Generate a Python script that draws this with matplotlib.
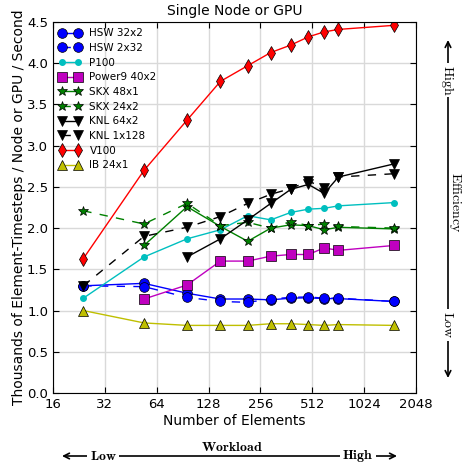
import numpy as np
import matplotlib
matplotlib.use('Agg')
import matplotlib.pyplot as plt
from matplotlib.ticker import NullLocator

plt.rcParams['mathtext.fontset'] = 'cm'
plt.rcParams['font.family'] = 'DejaVu Sans'
plt.rcParams['lines.linewidth'] = 1.0

# number of elements (cubed sphere, 6*ne^2)
N = [24, 54, 96, 150, 216, 294, 384, 486, 600, 726, 1536]
N_54 = N[1:]
N_96 = N[2:]

hsw_32x2 = [1.30, 1.33, 1.21, 1.14, 1.14, 1.13, 1.15, 1.155, 1.145, 1.145, 1.11]
hsw_2x32 = [1.30, 1.29, 1.16, 1.11, 1.10, 1.14, 1.16, 1.165, 1.15, 1.15, 1.11]
p100 = [1.15, 1.65, 1.87, 1.98, 2.15, 2.10, 2.19, 2.23, 2.24, 2.27, 2.31]
power9_40x2 = [1.14, 1.31, 1.60, 1.60, 1.66, 1.68, 1.68, 1.76, 1.73, 1.79]
skx_48x1 = [1.79, 2.26, 2.02, 1.84, 2.00, 2.04, 2.03, 1.98, 2.01, 1.99]
skx_24x2 = [2.21, 2.05, 2.30, 2.03, 2.07, 2.00, 2.08, 2.03, 2.05, 2.02, 2.00]
knl_64x2 = [1.65, 1.87, 2.10, 2.30, 2.47, 2.53, 2.42, 2.62, 2.78]
knl_1x128 = [1.30, 1.90, 2.01, 2.14, 2.30, 2.41, 2.48, 2.57, 2.49, 2.62, 2.66]
v100 = [1.63, 2.70, 3.31, 3.78, 3.97, 4.13, 4.22, 4.32, 4.38, 4.41, 4.46]
ib_24x1 = [1.00, 0.85, 0.82, 0.82, 0.82, 0.84, 0.84, 0.83, 0.82, 0.83, 0.82]

xticks = [16, 32, 64, 128, 256, 512, 1024, 2048]
yticks = [0.0, 0.5, 1.0, 1.5, 2.0, 2.5, 3.0, 3.5, 4.0, 4.5]

fig = plt.figure(figsize=(4.64, 4.63), dpi=100)
ax = fig.add_axes([53/464., 1-393/463., 363/464., 371/463.])

blue = (0, 0, 1)
cyan = (0, 0.75, 0.75)
mag = (0.75, 0, 0.75)
green = (0, 0.5, 0)
yel = (0.75, 0.75, 0)
dash = (6, 6)

ax.plot(N, hsw_32x2, '-', color=blue, marker='o', ms=7, mec='k', mew=0.5, label='HSW 32x2')
ax.plot(N, hsw_2x32, '--', dashes=dash, color=blue, marker='o', ms=7, mec='k', mew=0.5, label='HSW 2x32')
ax.plot(N, p100, '-', color=cyan, marker='.', ms=8, mec=cyan, label='P100')
ax.plot(N_54, power9_40x2, '-', color=mag, marker='s', ms=6.5, mec='k', mew=0.5, label='Power9 40x2')
ax.plot(N_54, skx_48x1, '-', color=green, marker='*', ms=7, mec='k', mew=0.5, label='SKX 48x1')
ax.plot(N, skx_24x2, '--', dashes=dash, color=green, marker='*', ms=7, mec='k', mew=0.5, label='SKX 24x2')
ax.plot(N_96, knl_64x2, '-', color='k', marker='v', ms=7, mec='k', mew=0.5, label='KNL 64x2')
ax.plot(N, knl_1x128, '--', dashes=dash, color='k', marker='v', ms=7, mec='k', mew=0.5, label='KNL 1x128')
ax.plot(N, v100, '-', color='r', marker='d', ms=7, mec='k', mew=0.5, label='V100')
ax.plot(N, ib_24x1, '-', color=yel, marker='^', ms=6.5, mec='k', mew=0.5, label='IB 24x1')

ax.set_xscale('log', base=2)
ax.set_xlim(16, 2048)
ax.set_xticks(xticks)
ax.set_xticklabels([str(t) for t in xticks])
ax.xaxis.set_minor_locator(NullLocator())
ax.set_ylim(0, 4.5)
ax.set_yticks(yticks)
ax.set_yticklabels(['%.1f' % t for t in yticks])
ax.tick_params(direction='in', top=True, right=True, labelsize=9.5, length=4, width=0.8)
ax.grid(True, color='0.85', lw=1, ls='-')
ax.set_axisbelow(True)

ax.set_title('Single Node or GPU', fontsize=10, pad=5)
ax.set_xlabel('Number of Elements', fontsize=10, labelpad=2)
ax.set_ylabel('Thousands of Element-Timesteps / Node or GPU / Second', fontsize=10, labelpad=1)

ax.legend(loc='upper left', frameon=False, numpoints=2, fontsize=7.5,
          handlelength=2.1, handletextpad=0.8, labelspacing=0.45,
          borderaxespad=0.3, borderpad=0.3)

# efficiency arrow on the right
ax.annotate('', xy=(448/464., 1-40/463.), xytext=(448/464., 1-378/463.),
            xycoords='figure fraction', textcoords='figure fraction',
            arrowprops=dict(arrowstyle='<->', lw=1.2, shrinkA=0, shrinkB=0))
wb = dict(fc='white', ec='none', pad=1.5)
fig.text(448/464., 1-80/463., r'$\mathrm{High}$', rotation=-90, ha='center', va='center',
         fontsize=10, bbox=wb)
fig.text(448/464., 1-325/463., r'$\mathrm{Low}$', rotation=-90, ha='center', va='center',
         fontsize=10, bbox=wb)
fig.text(455/464., 1-202/463., r'$\mathrm{Efficiency}$', rotation=-90, ha='center', va='center',
         fontsize=10)

# workload arrow at the bottom
ax.annotate('', xy=(62/464., 1-456/463.), xytext=(397/464., 1-456/463.),
            xycoords='figure fraction', textcoords='figure fraction',
            arrowprops=dict(arrowstyle='<->', lw=1.2, shrinkA=0, shrinkB=0))
fig.text(103/464., 1-456/463., r'$\mathbf{Low}$', ha='center', va='center', fontsize=10, bbox=wb)
fig.text(358/464., 1-456/463., r'$\mathbf{High}$', ha='center', va='center', fontsize=10, bbox=wb)
fig.text(232/464., 1-447/463., r'$\mathbf{Workload}$', ha='center', va='center', fontsize=10)

fig.savefig('out.png', dpi=100)
